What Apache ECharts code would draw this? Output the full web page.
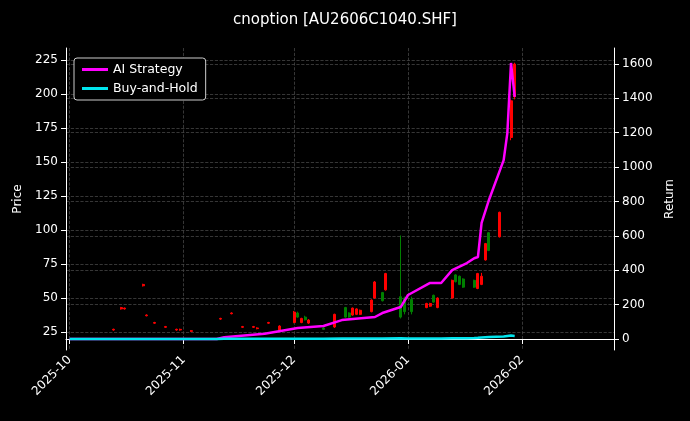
<!DOCTYPE html>
<html>
<head>
<meta charset="utf-8">
<script src="https://cdn.jsdelivr.net/npm/echarts@6/dist/echarts.min.js"></script>
<style>html,body{margin:0;background:#000}#chart{width:690px;height:421px}</style>
</head>
<body>
<div id="chart"></div>
<script>
// candles: date, open, close, low, high
var candleDates = ['2025-10-13','2025-10-15','2025-10-16','2025-10-21','2025-10-22','2025-10-24','2025-10-27','2025-10-30','2025-10-31','2025-11-03',
  '2025-11-11','2025-11-14','2025-11-17','2025-11-20','2025-11-21','2025-11-24','2025-11-27','2025-12-01','2025-12-02','2025-12-03',
  '2025-12-04','2025-12-05','2025-12-09','2025-12-12','2025-12-15','2025-12-16','2025-12-17','2025-12-18','2025-12-19','2025-12-22',
  '2025-12-23','2025-12-25','2025-12-26','2025-12-30','2025-12-31','2026-01-02','2026-01-06','2026-01-07','2026-01-08','2026-01-09',
  '2026-01-13','2026-01-14','2026-01-15','2026-01-16','2026-01-19','2026-01-20','2026-01-21','2026-01-22','2026-01-23','2026-01-26',
  '2026-01-29','2026-01-30'];
var candleOpen  = [26.5,42,42,59,37,31.5,28.5,26.5,26.5,25.5, 34.5,38.5,28.5,28.5,27.5,31.5,26.5,32,39,32, 36,31.6,28,28.7,43,39,37.5,38,38,40,
  50,54,56,51,50,49, 43,44,52,43, 50,67,66,64,63,57,60,78,98,95, 168,198];
var candleClose = [27,43,42.6,60,37.5,32,29,27,27,26, 35,39,29,29,28,32,29.4,39.7,36,35, 34,33.8,27,38,36,36,42.6,42,41,48.5,
  61.8,48,68,36,40,40, 46,46,47,50, 63,62,60,58,58,68,66,90,85,113, 195,222];
var candleLow   = [26,41.5,41.5,58.5,36.5,31,28,26,26,25, 34,38,28,28,27,31,26,31.5,35.5,31.5, 33.5,31,26.5,28,35.5,35.5,37,37.5,37.5,39.5,
  49.5,47.5,55.5,35,38,38, 42.5,43.5,46.5,42.5, 49.5,61.5,59.5,57.5,57.5,56.5,59.5,77.5,84.5,94.5, 166,196];
var candleHigh  = [27.5,43.5,43,60.5,38,32.5,29.5,27.5,27.5,26.5, 35.5,39.5,29.5,29.5,28.5,32.5,30,40.5,40,35.5, 37,34.5,28.5,38.5,43.5,39.5,43,42.5,41.5,49,
  62.5,54.5,68.5,96,51,51, 46.5,46.5,52.5,50.5, 63.5,67.5,66.5,64.5,63.5,68.5,68.5,90.5,98.5,113.5, 196,223];

var retDates = ['2025-10-01','2025-11-10','2025-11-12','2025-11-23','2025-12-02','2025-12-09','2025-12-14','2025-12-17','2025-12-23','2025-12-25',
  '2025-12-30','2026-01-01','2026-01-07','2026-01-10','2026-01-13','2026-01-17','2026-01-19','2026-01-20','2026-01-21','2026-01-23',
  '2026-01-27','2026-01-28','2026-01-29','2026-01-30'];
var aiReturn = [0,0,10,30,64,76,110,116,128,151, 186,256,326,326,401,442,470,477,675,809, 1041,1198,1606,1408];
var bhReturn = [0,0,2,2,2,2,3,3,3,3, 4,3,3,3,4,5,6,7,9,11, 14,17,20,18];

var priceTicks = [25,50,75,100,125,150,175,200,225];
var returnTicks = [0,200,400,600,800,1000,1200,1400,1600];

var candles = [];
for (var i = 0; i < candleDates.length; i++) {
  candles.push([candleDates[i], candleOpen[i], candleClose[i], candleLow[i], candleHigh[i]]);
}
var aiData = [], bhData = [];
for (var j = 0; j < retDates.length; j++) {
  aiData.push([retDates[j], aiReturn[j]]);
  bhData.push([retDates[j], bhReturn[j]]);
}

var txt = '#ffffff';
var grid_line = { show: true, lineStyle: { color: '#444', type: 'dashed', width: 0.8 } };
var chart = echarts.init(document.getElementById('chart'));
chart.setOption({
  backgroundColor: '#000',
  animation: false,
  textStyle: { fontFamily: 'DejaVu Sans' },
  title: { text: 'cnoption [AU2606C1040.SHF]', left: 'center', top: 8,
    textStyle: { color: txt, fontSize: 15, fontWeight: 'normal' } },
  legend: {
    left: 74, top: 58, orient: 'vertical', itemGap: 6,
    backgroundColor: '#000', borderColor: '#ccc', borderWidth: 1, borderRadius: 3, padding: [5, 8],
    itemWidth: 26, itemHeight: 3, icon: 'rect',
    textStyle: { color: txt, fontSize: 12.5 },
    data: ['AI Strategy', 'Buy-and-Hold']
  },
  grid: { left: 66, right: 76, top: 48, bottom: 71 },
  xAxis: {
    type: 'time', min: '2025-09-30', max: '2026-02-26', splitNumber: 5,
    axisLine: { lineStyle: { color: '#fff' } },
    axisTick: { lineStyle: { color: '#fff' } },
    axisLabel: { color: txt, fontSize: 12, rotate: 45, hideOverlap: false,
      formatter: function (v) {
        var d = new Date(v);
        return d.getDate() === 1 ? echarts.time.format(v, '{yyyy}-{MM}', false) : '';
      } },
    splitLine: grid_line
  },
  yAxis: [{
    type: 'value', min: 11.8, max: 233.8, name: 'Price', nameLocation: 'middle', nameGap: 42,
    nameTextStyle: { color: txt, fontSize: 12 },
    axisLine: { show: true, lineStyle: { color: '#fff' } },
    axisTick: { show: true, customValues: priceTicks },
    axisLabel: { customValues: priceTicks, color: txt, fontSize: 12 },
    splitLine: grid_line
  }, {
    type: 'value', min: -64, max: 1693, name: 'Return', nameLocation: 'middle', nameGap: 48,
    nameTextStyle: { color: txt, fontSize: 12 },
    axisLine: { show: true, lineStyle: { color: '#fff' } },
    axisTick: { show: true, customValues: returnTicks },
    axisLabel: { customValues: returnTicks, color: txt, fontSize: 12,
      formatter: function (v) { return String(v); } },
    splitLine: grid_line
  }],
  series: [{
    type: 'candlestick', name: 'Price', data: candles, barMaxWidth: 2.5,
    itemStyle: { color: '#ff0000', color0: '#008000', borderColor: '#ff0000', borderColor0: '#008000', borderWidth: 1 }
  }, {
    type: 'line', name: 'AI Strategy', yAxisIndex: 1, data: aiData, showSymbol: false,
    lineStyle: { color: '#ff00ff', width: 2.5 }, itemStyle: { color: '#ff00ff' }
  }, {
    type: 'line', name: 'Buy-and-Hold', yAxisIndex: 1, data: bhData, showSymbol: false,
    lineStyle: { color: '#00e5ee', width: 2.5 }, itemStyle: { color: '#00e5ee' }
  }]
});
</script>
</body>
</html>
